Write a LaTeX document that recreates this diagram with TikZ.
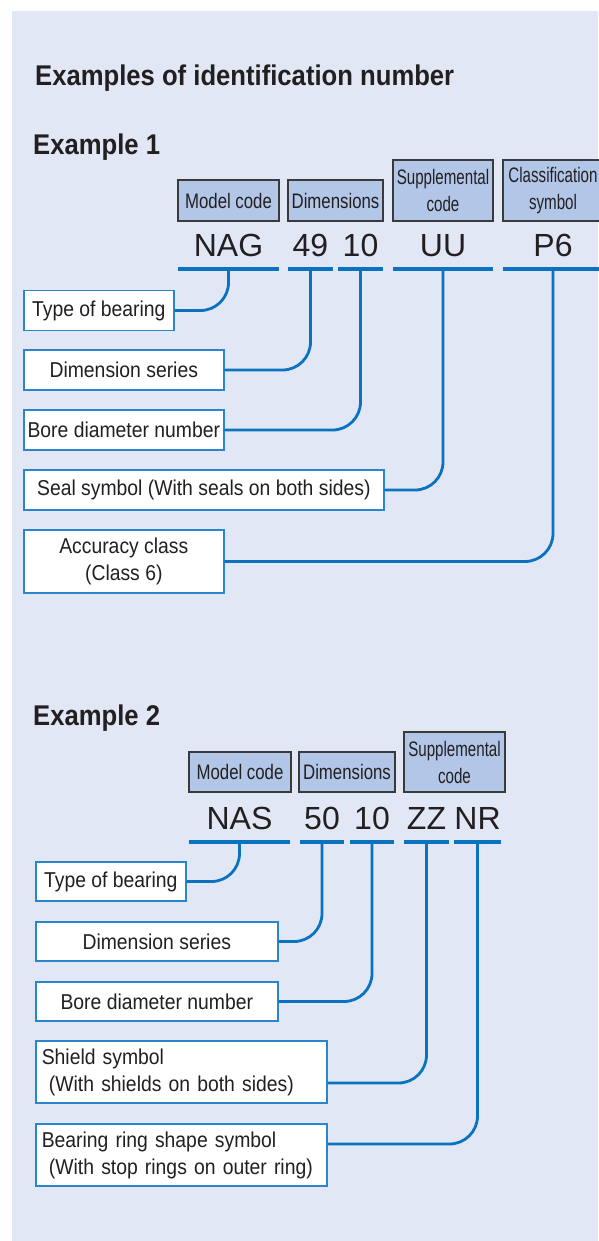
\documentclass[tikz,border=0pt]{standalone}
\usepackage{fontspec}
\setmainfont{Liberation Sans}
\newfontfamily\titlefont{Liberation Sans}[FakeStretch=0.9]
\newfontfamily\hdrfont{Liberation Sans}[FakeStretch=0.8]
\newfontfamily\hdrnarrow{Liberation Sans}[FakeStretch=0.72]
\newfontfamily\lblfont{Liberation Sans}[FakeStretch=0.9]
\definecolor{panel}{HTML}{E1E7F5}
\definecolor{hdrfill}{HTML}{B2C6E8}
\definecolor{hdrline}{HTML}{3A3A3A}
\definecolor{wireblue}{HTML}{0A72BE}
\definecolor{boxblue}{HTML}{2A86CC}
\definecolor{ink}{HTML}{231F20}

\begin{document}
\begin{tikzpicture}[x=1pt,y=-1pt,text=ink,
wire/.style={draw=wireblue,line width=2.8pt,rounded corners=28pt},
underbar/.style={draw=wireblue,line width=3.6pt}]
\tikzstyle{hdr}=[draw=hdrline,fill=hdrfill,line width=1.2pt,inner sep=0pt,align=center,font=\hdrfont\fontsize{21}{27}\selectfont]
\tikzstyle{hdr2}=[hdr,font=\hdrnarrow\fontsize{21}{27}\selectfont]
\tikzstyle{num}=[inner sep=0pt,text depth=12pt,anchor=south,font=\fontsize{32}{34}\selectfont]
\tikzstyle{lbl}=[draw=boxblue,fill=white,line width=1.6pt,inner sep=0pt,anchor=west,align=center,minimum height=40pt,font=\lblfont\fontsize{21.5}{27}\selectfont]
\tikzstyle{heading}=[anchor=base west,inner sep=0pt,font=\titlefont\bfseries\fontsize{28.5}{30}\selectfont]

\useasboundingbox (0,0) rectangle (598,1241);
\fill[panel] (12,11) rectangle (598,1241);

\node[heading] (title) at (35,86) {Examples of identification number};

% Example 1
\node[heading] (ex1) at (33,155) {Example 1};

\node[hdr,minimum width=101pt,minimum height=41pt] (model1) at (228.5,200.5) {Model code};
\node[hdr,minimum width=95pt,minimum height=41pt]  (dims1)  at (335.5,200.5) {Dimensions};
\node[hdr2,minimum width=100pt,minimum height=61pt] (supp1)  at (443,190.5) {Supplemental\\code};
\node[hdr2,minimum width=100pt,minimum height=61pt] (class1) at (553,190.5) {Classification\\symbol};

\node[num,minimum width=101pt] (nag) at (228.5,269) {NAG};
\node[num,minimum width=45pt]  (s49) at (310.5,269) {49};
\node[num,minimum width=45pt]  (b10) at (360.5,269) {10};
\node[num,minimum width=100pt] (uu)  at (443,269)   {UU};
\node[num,minimum width=100pt] (p6)  at (553,269)   {P6};
\foreach \n in {nag,s49,b10,uu,p6}
  \draw[underbar] (\n.south west) -- (\n.south east);

\node[lbl,minimum width=150pt] (type1)   at (23,310.5) {Type of bearing};
\node[lbl,minimum width=200pt] (series1) at (23,370)   {Dimension series};
\node[lbl,minimum width=200pt] (bore1)   at (23,430)   {Bore diameter number};
\node[lbl,minimum width=360pt] (seal1)   at (23,490)   {Seal symbol (With seals on both sides)};
\node[lbl,minimum width=200pt,minimum height=63pt] (acc1) at (23,561.5) {Accuracy class\\(Class 6)};

\draw[wire] (nag.south) |- (type1.east);
\draw[wire] (s49.south) |- (series1.east);
\draw[wire] (b10.south) |- (bore1.east);
\draw[wire] (uu.south)  |- (seal1.east);
\draw[wire] (p6.south)  |- (acc1.east);

% Example 2
\node[heading] (ex2) at (33,725) {Example 2};

\node[hdr,minimum width=102pt,minimum height=40pt] (model2) at (240,772)   {Model code};
\node[hdr,minimum width=96pt,minimum height=40pt]  (dims2)  at (347,772)   {Dimensions};
\node[hdr2,minimum width=101pt,minimum height=60pt] (supp2)  at (454.5,762) {Supplemental\\code};

\node[num,minimum width=101pt] (nas) at (239.5,842) {NAS};
\node[num,minimum width=44pt]  (s50) at (322,842)   {50};
\node[num,minimum width=44pt]  (b10b) at (372,842)  {10};
\node[num,minimum width=45pt]  (zz)  at (426.5,842) {ZZ};
\node[num,minimum width=45pt]  (nr)  at (477.5,842) {NR};
\foreach \n in {nas,s50,b10b,zz,nr}
  \draw[underbar] (\n.south west) -- (\n.south east);

\node[lbl,minimum width=150pt,minimum height=39pt] (type2)   at (35,881.5)  {Type of bearing};
\node[lbl,minimum width=242pt,minimum height=39pt] (series2) at (35,941.5)  {Dimension series};
\node[lbl,minimum width=242pt,minimum height=39pt] (bore2)   at (35,1001.5) {Bore diameter number};
\node[lbl,minimum height=62pt,inner xsep=6pt,text width=279pt,align=left] (shield2) at (35,1072)
  {Shield symbol\\~(With shields on both sides)};
\node[lbl,minimum height=62pt,inner xsep=6pt,text width=279pt,align=left] (ring2) at (35,1155)
  {Bearing ring shape symbol\\~(With stop rings on outer ring)};

\draw[wire] (nas.south)  |- (type2.east);
\draw[wire] (s50.south)  |- (series2.east);
\draw[wire] (b10b.south) |- (bore2.east);
\draw[wire] (zz.south)   |- ([yshift=-11pt]shield2.east);
\draw[wire] (nr.south)   |- ([yshift=11pt]ring2.east);
\end{tikzpicture}
\end{document}
